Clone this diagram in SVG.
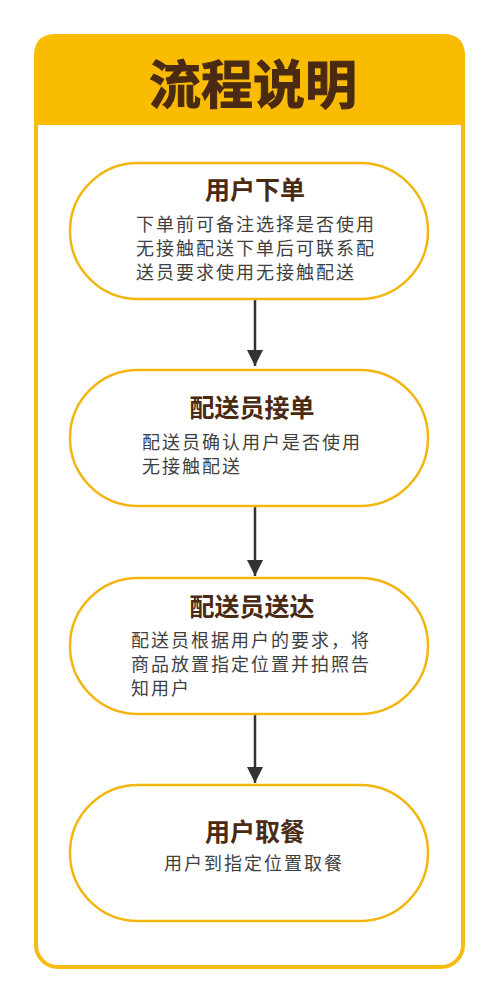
<svg xmlns="http://www.w3.org/2000/svg" width="500" height="1004" viewBox="0 0 500 1004">
<defs>
<style>
.frame{fill:#fff;stroke:#F6BC14;stroke-width:4}
.node{fill:#fff;stroke:#F2B610;stroke-width:2.5}
.title{font-family:"Noto Sans CJK SC","Noto Sans",sans-serif;font-weight:bold;fill:#4A2A12;text-anchor:middle}
.body{font-family:"Noto Sans CJK SC","Noto Sans",sans-serif;font-size:18px;letter-spacing:2px;fill:#3F3F3F}
.conn{stroke:#333;stroke-width:2.5;fill:none}
</style>
<marker id="arr" viewBox="0 0 16 24" refX="16" refY="12" markerWidth="16" markerHeight="24" markerUnits="userSpaceOnUse" orient="auto">
<path d="M0,4 L16,12 L0,20 Z" fill="#333"/>
</marker>
</defs>
<rect width="500" height="1004" fill="#fff"/>
<g id="frame">
<rect class="frame" x="36" y="36" width="427" height="931" rx="22"/>
<path d="M34,125 L34,56 Q34,34 56,34 L443,34 Q465,34 465,56 L465,125 Z" fill="#F9BC00"/>
<text class="title" x="253" y="104" font-size="52" stroke="#4A2A12" stroke-width="1">流程说明</text>
</g>
<g id="connectors">
<line class="conn" x1="255" y1="299" x2="255" y2="366" marker-end="url(#arr)"/>
<line class="conn" x1="255" y1="506" x2="255" y2="576" marker-end="url(#arr)"/>
<line class="conn" x1="255" y1="714" x2="255" y2="783" marker-end="url(#arr)"/>
</g>
<g id="node1">
<rect class="node" x="70" y="163" width="358" height="136" rx="68"/>
<text class="title" x="255" y="199" font-size="25">用户下单</text>
<text class="body" x="136" y="231">下单前可备注选择是否使用</text>
<text class="body" x="136" y="255">无接触配送下单后可联系配</text>
<text class="body" x="136" y="279">送员要求使用无接触配送</text>
</g>
<g id="node2">
<rect class="node" x="70" y="370" width="358" height="136" rx="68"/>
<text class="title" x="252" y="417" font-size="25">配送员接单</text>
<text class="body" x="142" y="449">配送员确认用户是否使用</text>
<text class="body" x="142" y="473">无接触配送</text>
</g>
<g id="node3">
<rect class="node" x="70" y="578" width="358" height="136" rx="68"/>
<text class="title" x="252" y="616" font-size="25">配送员送达</text>
<text class="body" x="131" y="647">配送员根据用户的要求，将</text>
<text class="body" x="131" y="671">商品放置指定位置并拍照告</text>
<text class="body" x="131" y="695">知用户</text>
</g>
<g id="node4">
<rect class="node" x="70" y="785" width="358" height="136" rx="68"/>
<text class="title" x="255" y="841" font-size="25">用户取餐</text>
<text class="body" x="254" y="870" text-anchor="middle">用户到指定位置取餐</text>
</g>
</svg>
